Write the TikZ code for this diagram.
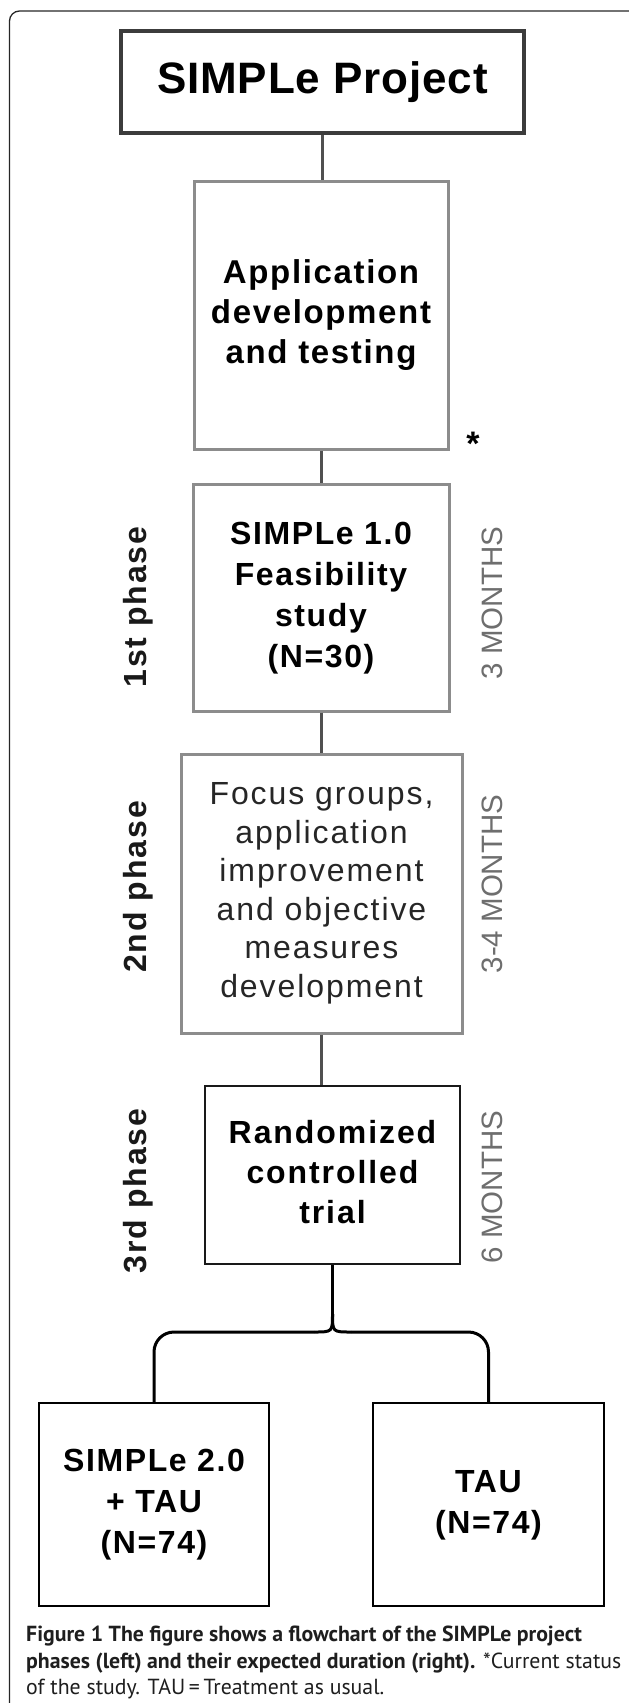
\documentclass[tikz,border=0pt]{standalone}
\usepackage{fontspec}
\newfontfamily\arialf{Liberation Sans}
\newfontfamily\capf{PT Sans}
\definecolor{boxdark}{HTML}{3C3C3C}
\definecolor{boxgray}{HTML}{8C8C8C}
\definecolor{linkgray}{HTML}{505050}
\definecolor{monthgray}{HTML}{6E6E6E}
\definecolor{captxt}{HTML}{1E1E1E}
\newcommand{\boxlines}[2]{\raisebox{#1}{\begin{tabular}{@{}c@{}}#2\end{tabular}}}
\begin{document}
\begin{tikzpicture}[x=1pt,y=-1pt,
  box/.style={draw, inner sep=0pt, align=center},
  projbox/.style={box, draw=boxdark, line width=4pt},
  graybox/.style={box, draw=boxgray, line width=3pt},
  darkbox/.style={box, draw=black!90, line width=2.2pt},
  link/.style={draw=linkgray, line width=3pt},
  blink/.style={draw=black, line width=3pt},
  phaselbl/.style={rotate=90, text=black!90, font=\arialf\bfseries\fontsize{32}{32}\selectfont\addfontfeature{LetterSpace=6}},
  monthlbl/.style={rotate=90, text=monthgray, font=\arialf\fontsize{29.5}{30}\selectfont},
  caption/.style={anchor=base west, inner sep=0pt, text=captxt}
]
\useasboundingbox (0,0) rectangle (629,1703);
% frame
\draw[line width=1.3pt, black!85, rounded corners=10pt] (9.5,1703) -- (9.5,11) -- (629,11);

% boxes
\node[projbox, minimum width=403pt, minimum height=102pt,
  font=\arialf\bfseries\fontsize{44}{50}\selectfont\addfontfeature{LetterSpace=2}] (proj) at (322.5,82)
  {SIMPLe Project};
\node[graybox, minimum width=254pt, minimum height=268pt,
  font=\arialf\bfseries\fontsize{33}{40}\selectfont\addfontfeature{LetterSpace=5}] (app) at (321,315)
  {\boxlines{-6pt}{Application\\development\\and testing}};
\node[graybox, minimum width=256pt, minimum height=227pt,
  font=\arialf\bfseries\fontsize{32}{41}\selectfont\addfontfeature{LetterSpace=5}] (s10) at (321,597.5)
  {\boxlines{-7pt}{SIMPLe 1.0\\Feasibility\\study\\(N=30)}};
\node[graybox, minimum width=281pt, minimum height=279pt, text=black!85,
  font=\arialf\fontsize{32}{38.5}\selectfont\addfontfeature{LetterSpace=6}] (focus) at (321.5,893.5)
  {\boxlines{-7pt}{Focus groups,\\application\\improvement\\and objective\\measures\\development}};
\node[darkbox, minimum width=255pt, minimum height=178pt,
  font=\arialf\bfseries\fontsize{32}{40}\selectfont\addfontfeature{LetterSpace=6}] (rct) at (332.5,1175)
  {\boxlines{-1pt}{Randomized\\controlled\\trial}};
\node[darkbox, draw=black, minimum width=230pt, minimum height=203pt,
  font=\arialf\bfseries\fontsize{32}{41}\selectfont\addfontfeature{LetterSpace=5}] (left) at (154,1504.5)
  {\boxlines{-7pt}{SIMPLe 2.0\\+ TAU\\(N=74)}};
\node[darkbox, draw=black, minimum width=231pt, minimum height=203pt,
  font=\arialf\bfseries\fontsize{32}{41}\selectfont\addfontfeature{LetterSpace=5}] (right) at (488.5,1504.5)
  {\boxlines{-7pt}{TAU\\(N=74)}};

% asterisk
\node[anchor=base, inner sep=0pt, font=\arialf\bfseries\fontsize{34}{34}\selectfont] (star) at (473,455) {*};

% phase labels
\node[phaselbl] (ph1) at (138,607) {1st phase};
\node[phaselbl] (ph2) at (138,887) {2nd phase};
\node[phaselbl] (ph3) at (138,1191) {3rd phase};
\node[monthlbl] (m1) at (492,603) {3 MONTHS};
\node[monthlbl] (m2) at (492,884) {3-4 MONTHS};
\node[monthlbl] (m3) at (492,1187) {6 MONTHS};

% connectors
\draw[link] (proj.south) -- (proj.south |- app.north);
\draw[link] (app.south) -- (app.south |- s10.north);
\draw[link] (s10.south) -- (s10.south |- focus.north);
\draw[link] (focus.south) -- (focus.south |- rct.north);

% brace split
\coordinate (J) at (332.5,1314);
\coordinate (JL) at (314,1332);
\coordinate (JR) at (351,1332);
\draw[blink] (rct.south) -- (J);
\draw[blink] (J) .. controls (332.5,1332) .. (JL);
\draw[blink] (J) .. controls (332.5,1332) .. (JR);
\draw[blink, rounded corners=20pt] (JL) -| (left.north);
\draw[blink, rounded corners=20pt] (JR) -| (right.north);

% caption
\node[caption, font=\capf\bfseries\fontsize{21.8}{26}\selectfont] (cap1) at (26,1641)
  {Figure 1 The figure shows a flowchart of the SIMPLe project};
\node[caption, font=\capf\fontsize{21.8}{26}\selectfont] (cap2) at (26,1668)
  {{\bfseries phases (left) and their expected duration (right).} *Current status};
\node[caption, font=\capf\fontsize{21.8}{26}\selectfont] (cap3) at (26,1694)
  {of the study. TAU\,=\,Treatment as usual.};
\end{tikzpicture}
\end{document}
